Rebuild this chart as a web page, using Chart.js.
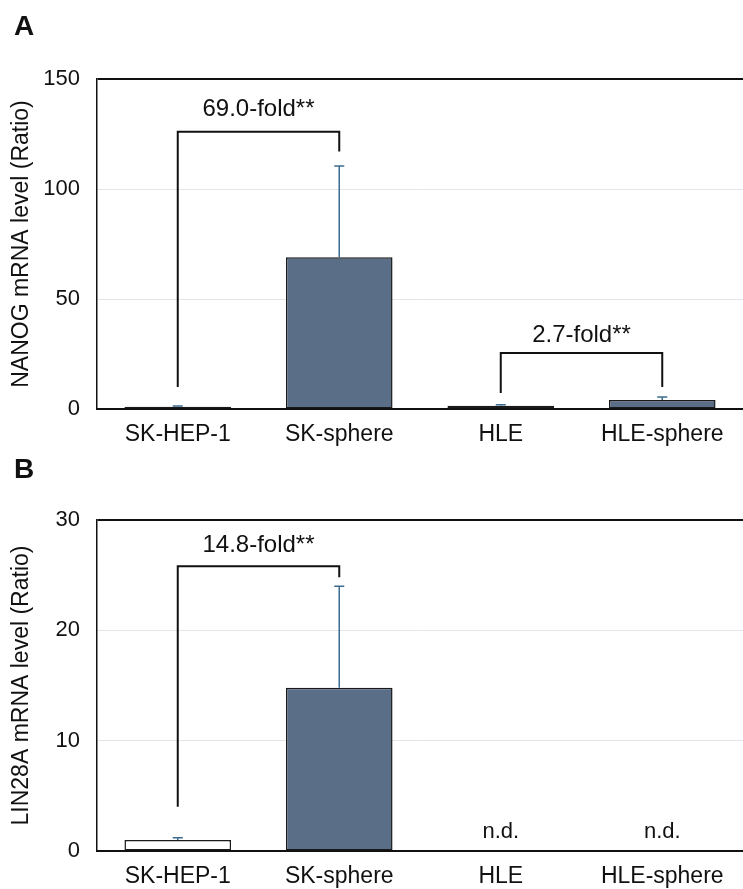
<!DOCTYPE html>
<html>
<head>
<meta charset="utf-8">
<script src="https://cdn.jsdelivr.net/npm/chart.js@4.4.1/dist/chart.umd.min.js"></script>
<style>
  body { margin: 0; background: #fff; }
  #wrap { position: relative; width: 743px; height: 889px; overflow: hidden; }
  canvas { position: absolute; left: 0; }
  .letter { position: absolute; left: 14px; font: bold 28px 'Liberation Sans', Arial, sans-serif; color: #111; }
</style>
</head>
<body>
<div id="wrap">
  <canvas id="chartA" style="top:0" width="743" height="460"></canvas>
  <canvas id="chartB" style="top:445px" width="743" height="444"></canvas>
  <div class="letter" style="top:10px">A</div>
  <div class="letter" style="top:453px">B</div>
</div>
<script>
const categories = ['SK-HEP-1', 'SK-sphere', 'HLE', 'HLE-sphere'];

// panel A: NANOG
const nanogMean = [1.0, 69.0, 1.5, 4.1];
const nanogErr = [0.4, 41.5, 0.4, 1.3];
const nanogTicks = { max: 150, step: 50 };
const nanogBrackets = [
  { from: 0, to: 1, level: 126, leftFoot: 10, rightFoot: 117, label: '69.0-fold**', labelAt: 136 },
  { from: 2, to: 3, level: 25.5, leftFoot: 7.3, rightFoot: 10, label: '2.7-fold**', labelAt: 33.5 }
];

// panel B: LIN28A (n.d. for HLE lines)
const lin28Mean = [1.0, 14.8, null, null];
const lin28Err = [0.2, 9.2, null, null];
const lin28Ticks = { max: 30, step: 10 };
const lin28Brackets = [
  { from: 0, to: 1, level: 25.8, leftFoot: 4.0, rightFoot: 24.8, label: '14.8-fold**', labelAt: 27.7 }
];
const lin28Notes = [{ index: 2, at: 1.7, text: 'n.d.' }, { index: 3, at: 1.7, text: 'n.d.' }];

const barColors = ['#ffffff', '#5a6e88', '#ffffff', '#5a6e88'];
const sans = "'Liberation Sans', Arial, sans-serif";

Chart.defaults.font.family = sans;
Chart.defaults.font.size = 22;
Chart.defaults.color = '#111';

function makeChart(id, title, means, errs, ticks, brackets, notes, plotTop, axisH) {
  const marks = {
    id: 'marks',
    afterDatasetsDraw(chart) {
      const { ctx } = chart;
      const x = chart.scales.x, y = chart.scales.y;
      ctx.save();
      // error bars
      ctx.strokeStyle = '#3d6b8e';
      ctx.lineWidth = 1.5;
      errs.forEach((e, i) => {
        const m = means[i];
        if (m == null || e == null) return;
        const cx = x.getPixelForValue(i);
        const y0 = y.getPixelForValue(m), y1 = y.getPixelForValue(m + e);
        ctx.beginPath();
        ctx.moveTo(cx, y0); ctx.lineTo(cx, y1);
        ctx.moveTo(cx - 5, y1); ctx.lineTo(cx + 5, y1);
        ctx.stroke();
      });
      // significance brackets
      ctx.strokeStyle = '#111';
      ctx.lineWidth = 2;
      ctx.fillStyle = '#111';
      ctx.textAlign = 'center';
      ctx.textBaseline = 'middle';
      ctx.font = '24px ' + sans;
      brackets.forEach(b => {
        const xl = x.getPixelForValue(b.from), xr = x.getPixelForValue(b.to);
        const yl = y.getPixelForValue(b.level);
        ctx.beginPath();
        ctx.moveTo(xl, y.getPixelForValue(b.leftFoot));
        ctx.lineTo(xl, yl);
        ctx.lineTo(xr, yl);
        ctx.lineTo(xr, y.getPixelForValue(b.rightFoot));
        ctx.stroke();
        ctx.fillText(b.label, (xl + xr) / 2, y.getPixelForValue(b.labelAt));
      });
      ctx.font = '22px ' + sans;
      notes.forEach(n => {
        ctx.fillText(n.text, x.getPixelForValue(n.index), y.getPixelForValue(n.at));
      });
      ctx.restore();
    }
  };

  return new Chart(document.getElementById(id), {
    type: 'bar',
    data: {
      labels: categories,
      datasets: [{
        data: means,
        backgroundColor: barColors,
        borderColor: '#1a1a1a',
        borderWidth: 1.5,
        borderSkipped: false,
        barPercentage: 0.66,
        categoryPercentage: 1
      }]
    },
    options: {
      responsive: false,
      animation: false,
      layout: { padding: { top: plotTop, left: 0, right: -8, bottom: 0 } },
      plugins: { legend: { display: false }, tooltip: { enabled: false } },
      scales: {
        x: {
          grid: { display: false },
          border: { color: '#111', width: 2 },
          ticks: { padding: 4, color: '#111', font: { size: 23 } },
          afterFit: s => { s.height = axisH; }
        },
        y: {
          min: 0,
          max: ticks.max,
          ticks: { stepSize: ticks.step, padding: 17, color: '#111', font: { size: 22 } },
          grid: {
            drawTicks: false,
            color: c => c.tick.value === ticks.max ? '#111' : '#e2e6ea',
            lineWidth: c => c.tick.value === ticks.max ? 2 : 1
          },
          border: { color: '#111', width: 1.5 },
          title: {
            display: true,
            text: title,
            color: '#111',
            font: { size: 23, family: sans },
            padding: { top: 8, bottom: 0 }
          },
          afterFit: s => { s.width = 97; }
        }
      }
    },
    plugins: [marks]
  });
}

makeChart('chartA', 'NANOG mRNA level (Ratio)', nanogMean, nanogErr, nanogTicks, nanogBrackets, [], 79, 51);
makeChart('chartB', 'LIN28A mRNA level (Ratio)', lin28Mean, lin28Err, lin28Ticks, lin28Brackets, lin28Notes, 75, 38);
</script>
</body>
</html>
